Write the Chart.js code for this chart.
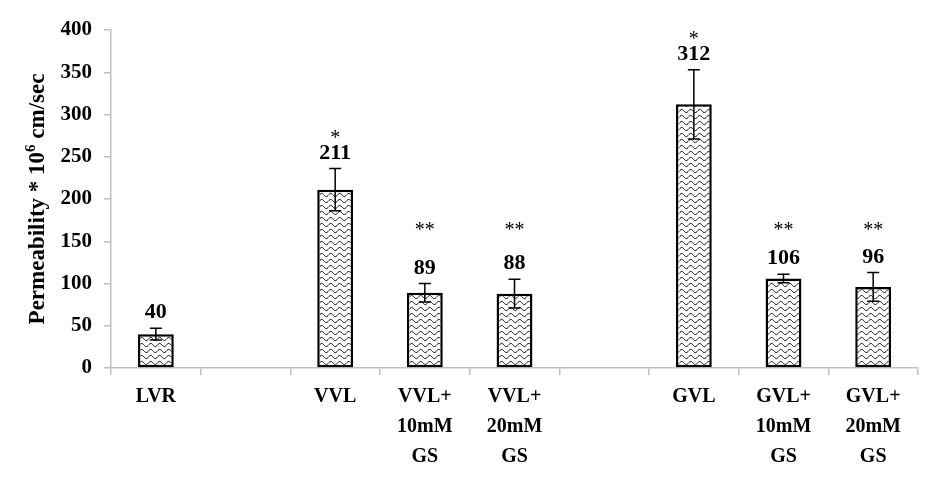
<!DOCTYPE html>
<html>
<head>
<meta charset="utf-8">
<script src="https://cdn.jsdelivr.net/npm/chart.js@4.4.1/dist/chart.umd.min.js"></script>
<style>
  html, body { margin: 0; padding: 0; background: #fff; }
  #wrap { width: 938px; height: 490px; position: relative; }
</style>
</head>
<body>
<div id="wrap"><canvas id="chartP"></canvas></div>
<script>
// Permeability chart data
const categories = [
    ['LVR'], [''], ['VVL'], ['VVL+', '10mM', 'GS'], ['VVL+', '20mM', 'GS'],
    [''], ['GVL'], ['GVL+', '10mM', 'GS'], ['GVL+', '20mM', 'GS']
];
const permeability = [40, null, 211, 89, 88, null, 312, 106, 96];
const errors = [7, null, 25, 11, 17, null, 41, 5, 17];
const marks = ['', '', '*', '**', '**', '', '*', '**', '**'];
const yMin = 0, yMax = 400, yStep = 50;

const serif = '"Liberation Serif", "Times New Roman", serif';
const axisGrey = '#bfbfbf';

// wavy fill pattern
function makeWave() {
    const c = document.createElement('canvas');
    c.width = 9; c.height = 6;
    const g = c.getContext('2d');
    g.fillStyle = '#fff';
    g.fillRect(0, 0, 9, 6);
    g.strokeStyle = '#000';
    g.lineWidth = 1;
    g.beginPath();
    for (let x = 0; x <= 9; x += 0.5) {
        const y = 3 + 1.6 * Math.sin(2 * Math.PI * x / 9);
        if (x === 0) g.moveTo(x, y); else g.lineTo(x, y);
    }
    g.stroke();
    return g.createPattern(c, 'repeat');
}

// error bars, value labels and significance marks
const annotate = {
    id: 'annotate',
    afterDatasetsDraw(chart) {
        const ctx = chart.ctx;
        const ys = chart.scales.y;
        const meta = chart.getDatasetMeta(0);
        ctx.save();
        meta.data.forEach((bar, i) => {
            const v = permeability[i];
            if (v === null) return;
            const e = errors[i];
            const top = ys.getPixelForValue(v + e);
            const bot = ys.getPixelForValue(v - e);
            ctx.strokeStyle = '#000';
            ctx.lineWidth = 1.5;
            ctx.beginPath();
            ctx.moveTo(bar.x, top); ctx.lineTo(bar.x, bot);
            ctx.moveTo(bar.x - 6, top); ctx.lineTo(bar.x + 6, top);
            ctx.moveTo(bar.x - 6, bot); ctx.lineTo(bar.x + 6, bot);
            ctx.stroke();

            ctx.fillStyle = '#000';
            ctx.textAlign = 'center';
            ctx.textBaseline = 'alphabetic';
            ctx.font = 'bold 22px ' + serif;
            const base = top - 10;
            ctx.fillText(String(v), bar.x, base);

            const m = marks[i];
            if (m === '*') {
                ctx.font = '20px ' + serif;
                ctx.fillText(m, bar.x, base - 15);
            } else if (m === '**') {
                ctx.font = '20px ' + serif;
                ctx.fillText(m, bar.x, ys.getPixelForValue(170) + 12);
            }
        });
        ctx.restore();
    }
};

// rotated y title with superscript
const yTitle = {
    id: 'yTitle',
    afterDraw(chart) {
        const ctx = chart.ctx;
        const a = 'Permeability * 10', sup = '6', b = ' cm/sec';
        const big = 'bold 23px ' + serif, small = 'bold 15px ' + serif;
        ctx.save();
        ctx.font = big;
        const wa = ctx.measureText(a).width, wb = ctx.measureText(b).width;
        ctx.font = small;
        const ws = ctx.measureText(sup).width;
        const total = wa + ws + wb;
        ctx.translate(44, (chart.chartArea.top + chart.chartArea.bottom) / 2);
        ctx.rotate(-Math.PI / 2);
        ctx.fillStyle = '#000';
        ctx.textAlign = 'left';
        ctx.textBaseline = 'alphabetic';
        let x = -total / 2;
        ctx.font = big;
        ctx.fillText(a, x, 0);
        x += wa;
        ctx.font = small;
        ctx.fillText(sup, x, -9);
        x += ws;
        ctx.font = big;
        ctx.fillText(b, x, 0);
        ctx.restore();
    }
};

const ctx = document.getElementById('chartP').getContext('2d');
const chart = new Chart(ctx, {
    type: 'bar',
    data: {
        labels: categories,
        datasets: [{
            data: permeability,
            backgroundColor: makeWave(),
            borderColor: '#000',
            borderWidth: 2.5,
            borderSkipped: false,
            categoryPercentage: 1,
            barPercentage: 0.4
        }]
    },
    options: {
        responsive: true,
        maintainAspectRatio: false,
        animation: false,
        layout: {padding: {left: 0, right: 20, top: 30, bottom: 0}},
        plugins: {legend: {display: false}, tooltip: {enabled: false}},
        scales: {
            x: {
                afterFit: s => { s.height = 122; },
                border: {color: axisGrey, width: 1.5},
                grid: {offset: true, drawOnChartArea: false, drawTicks: true, tickLength: 7, color: axisGrey, lineWidth: 1.5},
                ticks: {color: '#000', padding: 7, maxRotation: 0, autoSkip: false,
                        font: {family: serif, size: 20, weight: 'bold', lineHeight: 1.5}}
            },
            y: {
                min: yMin, max: yMax,
                afterFit: s => { s.width = 111; },
                border: {color: axisGrey, width: 1.5},
                grid: {drawOnChartArea: false, drawTicks: true, tickLength: 7, color: axisGrey, lineWidth: 1.5},
                ticks: {stepSize: yStep, color: '#000', padding: 12,
                        font: {family: serif, size: 21, weight: 'bold'}}
            }
        }
    },
    plugins: [annotate, yTitle]
});
</script>
</body>
</html>
